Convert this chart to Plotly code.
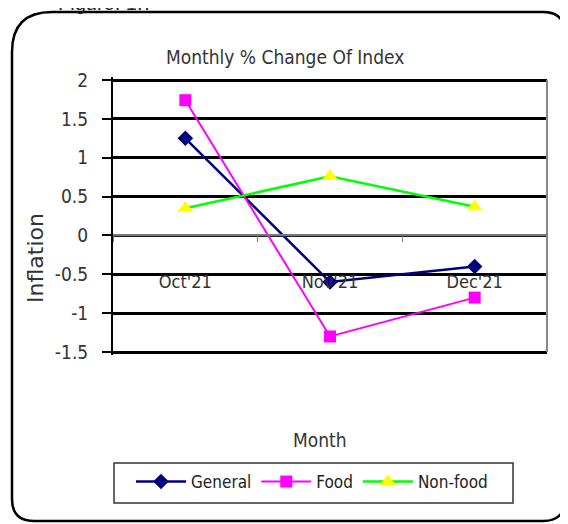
import plotly.graph_objects as go

months = ["Oct'21", "Nov'21", "Dec'21"]
general = [1.25, -0.6, -0.4]
food = [1.74, -1.3, -0.8]
nonfood = [0.35, 0.76, 0.37]
ytick_vals = [2, 1.5, 1, 0.5, 0, -0.5, -1, -1.5]
ytick_text = ["2", "1.5", "1", "0.5", "0", "-0.5", "-1", "-1.5"]

# page body has an 8px margin; figure is sized to fit the window
OFF = 8
W, H = 568 - OFF, 524 - OFF
ymin, ymax = -1.5, 2
EXT = 3  # px of extra room above/below so edge gridlines are drawn
# plot area in screenshot pixels
PL, PR, PT, PB = 113, 547, 80 - EXT, 352 + EXT
pad = EXT * (ymax - ymin) / 272.0
L, R, T, B = PL - OFF, W - (PR - OFF), PT - OFF, H - (PB - OFF)
FONT = "DejaVu Sans Condensed, Liberation Sans Narrow, Liberation Sans, Arial, sans-serif"

def px(x):
    return (x - PL) / (PR - PL)

def py(y):
    return (PB - y) / (PB - PT)

fig = go.Figure()
fig.add_trace(go.Scatter(x=months, y=general, name="General", mode="lines+markers",
                         line=dict(color="#000080", width=2.5),
                         marker=dict(symbol="diamond", size=12, color="#000080")))
fig.add_trace(go.Scatter(x=months, y=food, name="Food", mode="lines+markers",
                         line=dict(color="#FF00FF", width=2),
                         marker=dict(symbol="square", size=12, color="#FF00FF")))
fig.add_trace(go.Scatter(x=months, y=nonfood, name="Non-food", mode="lines+markers",
                         line=dict(color="#00FF00", width=2.5),
                         marker=dict(symbol="triangle-up", size=14, color="#FFFF00")))

zero_pos = (0 - (ymin - pad)) / ((ymax + pad) - (ymin - pad))

x0, x1, y0, y1 = 12, 565, 12, 521
rtl, r = 40, 22
path = (f"M {px(x0+rtl)},{py(y0)} L {px(x1-r)},{py(y0)} "
        f"Q {px(x1)},{py(y0)} {px(x1)},{py(y0+r)} "
        f"L {px(x1)},{py(y1-r)} Q {px(x1)},{py(y1)} {px(x1-r)},{py(y1)} "
        f"L {px(x0+r)},{py(y1)} Q {px(x0)},{py(y1)} {px(x0)},{py(y1-r)} "
        f"L {px(x0)},{py(y0+rtl)} Q {px(x0)},{py(y0)} {px(x0+rtl)},{py(y0)} Z")

fig.update_layout(
    width=W, height=H,
    margin=dict(l=L, r=R, t=T, b=B, autoexpand=False),
    paper_bgcolor="white", plot_bgcolor="white",
    font=dict(family=FONT, color="#222222", size=18),
    showlegend=True,
    legend=dict(orientation="h", x=px(131), y=py(464), xanchor="left", yanchor="top",
                borderwidth=0, font=dict(size=17), itemwidth=50),
    xaxis=dict(type="category", range=[-0.5, 2.5], anchor="free", position=zero_pos,
               showline=True, linecolor="#777777", linewidth=1.5,
               ticks="outside", tickson="boundaries", ticklen=6, tickcolor="#777777",
               showgrid=False, ticklabelstandoff=30,
               tickfont=dict(size=18, color="#333333")),
    yaxis=dict(range=[ymin - pad, ymax + pad], tickvals=ytick_vals, ticktext=ytick_text,
               showline=True, linecolor="black", linewidth=2,
               ticks="outside", ticklen=9, tickcolor="black", tickwidth=1.5,
               ticklabelstandoff=10,
               showgrid=True, gridcolor="black", gridwidth=2.5, zeroline=False,
               tickfont=dict(size=19, color="#333333")),
    shapes=[
        dict(type="path", xref="paper", yref="paper", path=path,
             line=dict(color="black", width=2.5), fillcolor="rgba(0,0,0,0)", layer="below"),
        dict(type="line", xref="paper", yref="y", x0=1, x1=1, y0=ymin, y1=ymax,
             line=dict(color="#888888", width=2)),
        dict(type="line", xref="paper", yref="y", x0=0, x1=1, y0=0, y1=0,
             line=dict(color="#777777", width=1.5)),
        dict(type="rect", xref="paper", yref="paper",
             x0=px(114), x1=px(513), y0=py(463), y1=py(503),
             line=dict(color="#333333", width=1.5), fillcolor="rgba(0,0,0,0)"),
    ],
    annotations=[
        dict(text="Monthly % Change Of Index", xref="paper", yref="paper",
             x=px(285), y=py(57), yanchor="middle", showarrow=False,
             font=dict(size=19, color="#333333")),
        dict(text="Month", xref="paper", yref="paper",
             x=px(320), y=py(440), yanchor="middle", showarrow=False,
             font=dict(size=19, color="#333333")),
        dict(text="Inflation", xref="paper", yref="paper", textangle=-90,
             x=px(35), y=py(258), xanchor="center", yanchor="middle", showarrow=False,
             font=dict(family="DejaVu Sans, Liberation Sans, sans-serif",
                       size=22, color="#333333")),
        dict(text="Figure: 1.7", xref="paper", yref="paper", xanchor="left",
             x=px(56), y=py(-10), yanchor="top", showarrow=False,
             font=dict(family="Liberation Sans, Arial, sans-serif", size=20, color="#222222")),
    ],
)

fig.write_html("out.html")
